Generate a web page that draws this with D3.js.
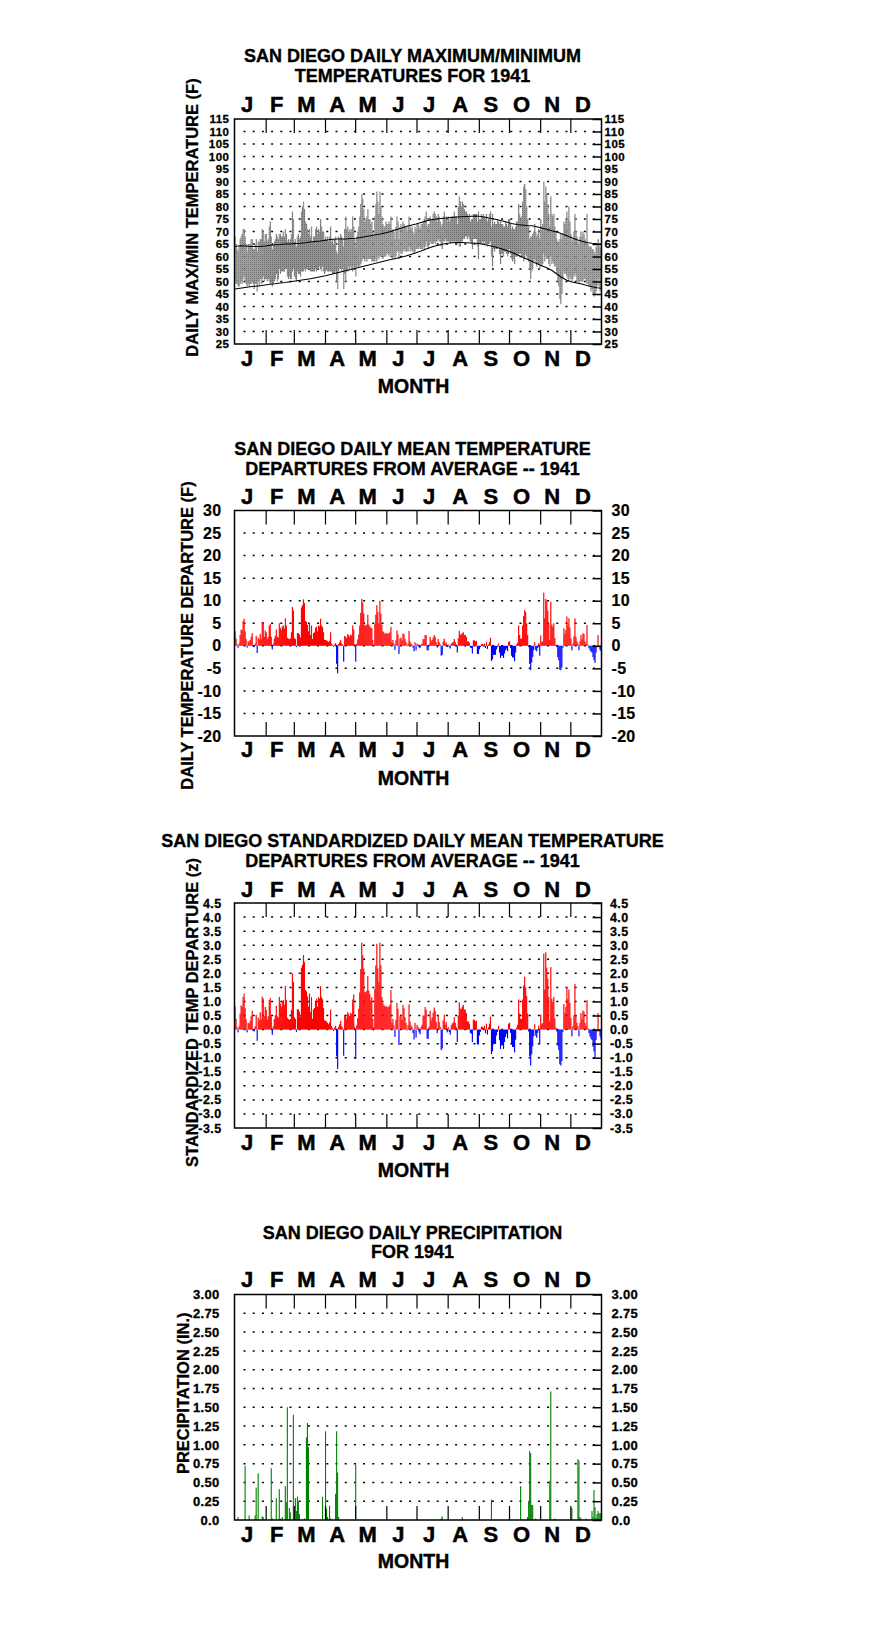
<!DOCTYPE html>
<html><head><meta charset="utf-8">
<script src="https://cdn.jsdelivr.net/npm/d3@7"></script>
<style>
body{margin:0;background:#fff}
svg{display:block}
text{font-family:"Liberation Sans",Arial,sans-serif;font-weight:bold;fill:#000}
</style>
</head><body>
<svg id="chart" width="876" height="1634"></svg>
<script>
// ---------------- DATA ----------------
const monthLetters = ["J","F","M","A","M","J","J","A","S","O","N","D"];
const monthStarts = [0,31,59,90,120,151,181,212,243,273,304,334];
const monthLengths = [31,28,31,30,31,30,31,31,30,31,30,31];

const tempTicks = [25,30,35,40,45,50,55,60,65,70,75,80,85,90,95,100,105,110,115];
const depTicks = [-20,-15,-10,-5,0,5,10,15,20,25,30];
const zTicks = [-3.5,-3.0,-2.5,-2.0,-1.5,-1.0,-0.5,0.0,0.5,1.0,1.5,2.0,2.5,3.0,3.5,4.0,4.5];
const zTickLabels = ["-3.5","-3.0","-2.5","-2.0","-1.5","-1.0","-0.5","0.0","0.5","1.0","1.5","2.0","2.5","3.0","3.5","4.0","4.5"];
const precipTicks = [0,0.25,0.5,0.75,1.0,1.25,1.5,1.75,2.0,2.25,2.5,2.75,3.0];
const precipTickLabels = ["0.0","0.25","0.50","0.75","1.00","1.25","1.50","1.75","2.00","2.25","2.50","2.75","3.00"];

// daily maximum temperature (F), Jan 1 .. Dec 31
const tempMax = [
68,65,63,62,64,67,68,69,71,71,68,65,62,65,65,65,67,67,63,63,65,67,62,66,66,67,67,71,70,66,69,
69,66,67,72,74,68,63,65,66,67,69,68,67,69,69,68,68,70,68,71,69,66,67,66,67,69,78,75,
66,67,64,68,69,67,68,78,80,82,79,74,73,71,69,71,68,72,66,68,68,71,72,69,71,70,75,72,70,70,67,
68,67,68,66,68,72,66,67,65,67,68,62,61,68,67,69,68,67,64,71,76,71,72,70,71,70,71,76,72,67,
64,68,70,72,76,81,85,83,79,74,75,76,79,75,75,73,74,70,68,76,81,86,82,77,86,80,76,73,72,72,74,
73,73,74,73,76,70,71,70,67,72,76,74,67,72,73,71,74,73,72,72,70,72,76,72,71,72,70,69,72,71,
73,73,72,71,73,73,74,75,76,78,72,73,73,76,75,75,77,78,77,76,74,77,76,74,72,73,76,78,75,76,74,
76,74,75,76,76,76,78,76,76,73,80,84,82,80,82,81,79,78,78,77,76,77,74,75,75,77,77,77,77,74,78,
75,75,77,76,77,76,75,77,74,75,77,78,72,77,73,74,73,73,75,74,73,74,73,73,72,72,74,73,72,75,
75,73,71,72,71,71,72,74,74,81,77,75,76,82,88,89,87,80,75,72,67,68,68,69,70,73,70,68,69,71,67,
75,72,73,90,82,88,85,81,77,72,84,77,76,77,72,70,67,66,66,67,69,67,69,74,73,75,78,75,80,74,
69,66,67,70,77,70,68,66,65,68,70,68,70,69,67,66,77,65,64,64,64,63,63,62,61,64,64,67,64,64,63
];
// daily minimum temperature (F)
const tempMin = [
50,49,49,48,48,49,50,49,51,52,50,49,48,49,48,49,49,50,49,47,49,49,46,50,48,51,49,51,52,50,51,
51,50,51,50,49,50,48,49,50,51,53,50,51,55,53,54,54,54,54,55,55,52,51,52,51,51,54,55,
52,51,50,54,53,53,52,54,54,54,55,54,55,55,55,55,54,54,54,54,54,55,54,55,55,56,55,54,56,54,53,
54,55,54,54,54,54,54,53,53,53,54,50,47,54,55,55,54,55,47,53,50,54,54,56,55,56,55,54,56,55,
52,56,56,56,56,57,58,59,59,58,59,58,59,59,59,59,58,58,58,58,59,58,60,59,60,60,60,59,60,60,60,
61,61,60,61,60,60,59,60,59,60,62,62,59,62,61,61,62,63,62,62,62,62,64,62,63,62,62,61,62,63,
63,63,64,63,63,63,64,63,64,66,64,63,65,66,65,65,65,66,65,66,66,67,66,66,64,63,66,66,67,66,66,
66,66,65,66,66,66,66,66,66,65,66,64,64,66,66,67,67,68,68,67,68,67,66,65,63,67,67,67,67,64,59,
65,65,65,66,65,66,65,65,64,65,65,66,60,56,63,62,63,63,63,64,61,57,61,61,60,62,62,61,60,61,
63,61,59,58,59,57,60,60,60,61,61,61,60,60,58,59,61,60,59,58,55,51,54,55,58,59,58,56,57,57,55,
57,56,57,61,58,60,59,59,57,56,60,57,58,57,56,56,53,50,48,43,41,45,51,54,53,53,52,51,50,52,
51,50,51,52,53,52,50,50,49,50,50,50,50,51,51,50,49,49,48,48,46,47,45,44,45,46,48,51,48,46,47
];
// normal max / min curves (read every 5 days)
const normalDays = [0,5,10,15,20,25,30,35,40,45,50,55,60,65,70,75,80,85,90,95,100,105,110,115,120,125,130,135,140,145,150,155,160,165,170,175,180,185,190,195,200,205,210,215,220,225,230,235,240,245,250,255,260,265,270,275,280,285,290,295,300,305,310,315,320,325,330,335,340,345,350,355,360,364];
const normalMax = [64,64.3,64.2,64,64,64,64.2,64.5,64.7,64.8,65,65,65.2,65.3,65.5,65.8,66,66.2,66.5,66.8,67,67,67,67.2,67.3,67.6,68,68.3,68.7,69,69.5,70,70.7,71.3,72,72.5,73,73.6,74.2,74.7,75,75.2,75.4,75.6,75.8,75.9,76,76.1,76.2,76,75.6,75.2,74.8,74.3,73.8,73.2,72.8,72.6,72.4,72.3,71.9,71.4,70.9,70.3,69.8,69.1,68.3,67.5,66.7,66.1,65.6,65.3,65.1,65.0];
const normalMin = [47,47.3,47.6,47.9,48.1,48.3,48.6,48.9,49.1,49.4,49.6,49.9,50.2,50.5,50.8,51.1,51.5,51.9,52.3,52.8,53.3,53.8,54.3,54.8,55.3,55.8,56.3,56.8,57.3,57.8,58.3,58.8,59.2,59.7,60.2,60.8,61.5,62.2,63,63.7,64.3,64.8,65.2,65.5,65.6,65.6,65.5,65.4,65.3,65.0,64.6,64.2,63.7,63.1,62.4,61.7,60.8,59.9,59.0,58.1,57.2,56.3,55.5,54.5,53.0,51.6,50.5,49.8,49.4,49.0,48.4,47.9,47.5,47.3];

// daily mean temperature departure (F)
const departure = [
3.3,1.6,0.3,-0.4,0.5,2.4,3.6,3.4,5.5,6.0,3.2,1.5,-0.4,1.0,0.9,1.3,2.0,2.8,-0.2,-0.3,0.5,2.2,-1.6,1.8,1.4,2.6,1.5,5.2,5.3,2.0,3.4,
3.0,1.5,2.0,4.5,4.8,2.0,-0.8,0.5,1.6,2.2,3.6,2.0,1.8,5.0,4.0,3.5,4.3,4.5,3.8,6.1,4.5,1.8,1.6,1.5,1.6,3.0,8.6,7.8,
1.7,1.5,-0.3,2.8,2.8,2.5,1.8,8.5,9.0,10.3,9.5,5.5,5.3,4.6,3.2,5.0,2.4,4.5,1.5,2.8,3.0,4.0,4.3,3.2,4.5,4.3,6.0,4.5,4.2,3.0,1.3,
1.3,1.2,1.0,0.8,1.1,3.0,0.5,0.2,-0.2,0.3,0.6,-4.0,-6.1,0.4,0.8,1.3,0.5,0.3,-3.5,2.2,2.0,1.7,2.6,2.3,2.0,2.5,2.3,4.5,3.6,0.4,
-3.5,0.5,1.4,2.5,4.5,7.3,10.4,9.6,7.2,4.5,4.5,4.7,6.9,4.7,4.3,4.0,3.9,1.3,0.3,4.8,6.9,9.0,7.5,5.0,10.0,7.1,4.7,3.2,3.0,2.6,2.8,
2.8,2.7,2.8,3.0,4.2,0.8,1.3,0.5,-0.9,1.2,3.4,2.5,-1.8,1.6,1.8,1.2,2.7,2.6,1.5,0.8,-0.1,0.5,3.3,1.0,0.5,0.3,-0.4,-1.2,0.8,-1.0,
0.5,0.3,-0.3,-0.5,0.3,0.5,1.5,1.5,2.4,2.4,-1.0,-1.0,0.3,2.0,1.0,1.3,1.8,2.4,2.0,0.8,-0.4,1.5,0.8,0.3,-2.2,-2.0,1.0,1.6,0.5,0.8,-0.3,
0.3,-0.3,-0.6,0.5,0.7,0.9,1.5,0.8,0.3,-1.5,1.7,3.3,2.5,2.5,2.8,3.0,2.4,2.4,2.0,1.0,1.0,0.7,-0.4,-0.5,-1.7,1.2,1.2,1.0,1.1,-1.8,-1.8,
-0.8,-0.3,0.4,0.4,0.2,0.5,-0.5,0.8,-0.7,0.3,0.8,1.8,-3.4,-3.0,-2.0,-2.0,-2.0,-0.8,-0.3,0.5,-1.5,-2.7,-2.2,-2.2,-2.7,-1.7,-1.0,-0.6,-1.2,0.8,
1.0,-0.5,-2.2,-2.6,-2.6,-3.4,-1.5,0.3,0.7,4.5,2.4,1.6,1.6,4.5,6.6,7.9,7.5,5.0,2.4,-0.3,-4.0,-5.4,-3.7,-2.5,-1.0,0.8,-0.9,-1.2,-0.5,0.6,-2.2,
2.3,0.8,1.0,11.8,6.1,10.4,10.0,7.8,5.0,1.3,9.8,4.7,4.2,5.0,1.7,0.3,-0.3,-2.5,-3.2,-5.3,-5.4,-4.8,-0.4,3.9,2.6,3.5,6.5,4.7,6.1,4.1,
1.7,-1.0,0.5,2.1,6.1,2.0,1.0,0.5,-1.0,1.0,2.4,1.5,2.8,2.6,1.0,0.5,4.6,0.2,-0.5,-1.0,-1.3,-1.5,-2.5,-3.2,-3.8,-1.5,-0.3,2.4,-0.3,-1.0,-1.2
];
// standardized daily mean temperature departure (z)
const zDeparture = [
0.82,0.38,0.07,-0.10,0.12,0.57,0.86,0.81,1.16,1.28,0.76,0.36,-0.10,0.24,0.21,0.31,0.48,0.67,-0.05,-0.07,0.12,0.52,-0.40,0.43,0.33,0.62,0.36,1.17,1.10,0.48,0.81,
0.70,0.35,0.47,1.05,1.12,0.47,-0.19,0.12,0.37,0.51,0.84,0.47,0.42,1.16,0.93,0.81,1.00,1.05,0.88,1.55,1.05,0.42,0.37,0.35,0.37,0.70,2.00,1.70,
0.44,0.38,-0.08,0.72,0.72,0.64,0.46,2.20,2.30,2.65,2.40,1.41,1.36,1.18,0.82,1.28,0.62,1.15,0.38,0.72,0.77,1.03,1.10,0.82,1.15,1.10,1.54,1.15,1.08,0.77,0.33,
0.31,0.29,0.24,0.19,0.26,0.71,0.12,0.05,-0.05,0.07,0.14,-0.95,-1.40,0.10,0.19,0.31,0.12,0.07,-0.93,0.52,0.48,0.40,0.62,0.55,0.48,0.60,0.55,1.07,1.25,0.10,
-1.05,0.15,0.41,0.74,1.32,2.15,3.09,2.64,2.17,1.34,1.32,1.38,1.90,1.38,1.26,1.04,1.15,0.38,0.09,1.45,2.28,3.05,2.17,1.69,3.09,2.28,1.16,0.94,0.88,0.83,0.82,
0.82,0.79,0.82,0.88,1.40,0.24,0.38,0.15,-0.26,0.35,0.95,0.74,-0.55,0.47,0.53,0.35,0.88,0.76,0.44,0.24,-0.03,0.15,0.90,0.29,0.15,0.09,-0.12,-0.35,0.24,-0.29,
0.17,0.10,-0.10,-0.17,0.10,0.17,0.50,0.50,0.80,0.70,-0.33,-0.33,0.10,0.67,0.33,0.43,0.60,0.78,0.67,0.27,-0.13,0.50,0.27,0.10,-0.73,-0.67,0.33,0.53,0.17,0.27,-0.10,
0.09,-0.09,-0.18,0.15,0.21,0.26,0.44,0.24,0.09,-0.44,0.50,0.97,0.74,0.74,0.82,0.88,0.71,0.71,0.59,0.29,0.29,0.21,-0.12,-0.15,-0.45,0.35,0.35,0.29,0.32,-0.53,-0.53,
-0.21,-0.08,0.10,0.10,0.05,0.13,-0.13,0.21,-0.18,0.08,0.21,0.46,-0.87,-0.77,-0.51,-0.51,-0.51,-0.21,-0.08,0.13,-0.38,-0.69,-0.56,-0.56,-0.69,-0.44,-0.26,-0.15,-0.31,0.21,
0.24,-0.12,-0.52,-0.62,-0.62,-0.81,-0.36,0.07,0.17,1.07,0.57,0.38,0.38,1.07,1.57,1.88,1.50,1.19,0.57,-0.07,-0.95,-1.28,-0.88,-0.60,-0.24,0.19,-0.21,-0.29,-0.12,0.14,-0.52,
0.53,0.19,0.23,2.70,1.42,2.75,2.20,1.81,1.16,0.30,2.22,1.09,0.98,1.16,0.40,0.07,-0.07,-0.58,-0.74,-1.23,-1.28,-1.12,-0.09,0.91,0.60,0.81,1.51,1.09,1.42,0.95,
0.41,-0.24,0.12,0.51,1.62,0.49,0.24,0.12,-0.24,0.24,0.59,0.37,0.68,0.63,0.24,0.12,1.05,0.05,-0.12,-0.24,-0.32,-0.37,-0.61,-0.78,-1.00,-0.37,-0.07,0.59,-0.07,-0.24,-0.35
];
// daily precipitation (in.), only days with a bar
const precipDays = [3,10,14,20,21,23,27,28,36,37,41,44,45,47,50,51,52,54,55,58,60,61,62,63,64,69,71,72,73,87,90,91,92,94,95,100,101,102,103,120,205,206,226,255,284,291,292,293,294,295,296,299,313,314,318,335,341,342,343,344,349,355,356,357,358,359,360,361,362,363,364];
const precipAmounts = [0.04,0.72,0.06,0.06,0.43,0.62,0.05,0.04,0.69,0.02,0.29,0.41,0.02,0.04,0.45,0.24,1.50,0.16,0.10,1.40,0.29,0.12,0.31,0.25,0.08,0.02,1.10,1.29,0.97,0.31,1.18,0.15,0.04,0.19,0.02,0.35,1.18,0.63,0.04,0.74,0.02,0.05,0.04,0.27,0.45,0.04,0.25,0.92,0.89,0.20,0.20,0.02,0.52,1.71,0.02,0.16,0.81,0.79,0.04,0.02,0.02,0.12,0.04,0.40,0.17,0.03,0.08,0.12,0.09,0.09,0.09];

// ---------------- DRAWING ----------------
const svg = d3.select("#chart");
svg.append("rect").attr("width",876).attr("height",1634).attr("fill","#fff");

const defs = svg.append("defs");
const pat = defs.append("pattern").attr("id","stip").attr("patternUnits","userSpaceOnUse").attr("width",2).attr("height",2);
pat.append("rect").attr("width",2).attr("height",2).attr("fill","#939393");
pat.append("rect").attr("width",1).attr("height",1).attr("fill","#6a6a6a");

const X0 = 234.5, X1 = 601.5;
const x = d3.scaleLinear().domain([0,365]).range([X0,X1]);
const FONT = '"Liberation Sans", Arial, sans-serif';

function heavy(sel, w){
  return sel.attr("stroke","#000").attr("stroke-width",w).attr("paint-order","stroke");
}

function panel(cfg){
  const g = svg.append("g");
  const y = d3.scaleLinear().domain(cfg.domain).range([cfg.bottom,cfg.top]);

  // titles
  cfg.title.forEach((t,i)=>{
    heavy(g.append("text").attr("x",412.5).attr("y",cfg.titleY[i]).attr("text-anchor","middle")
      .style("font-size","18px").text(t), 0.35);
  });

  // dotted grid rows
  cfg.ticks.forEach(v=>{
    if (v===cfg.domain[0] || v===cfg.domain[1]) return;
    g.append("line").attr("x1",243.5).attr("x2",595).attr("y1",y(v)).attr("y2",y(v))
      .attr("stroke","#000").attr("stroke-width",1.5).attr("stroke-dasharray","2 7.2");
  });

  // data
  cfg.draw(g,y);

  // month ticks top & bottom
  const mt = g.append("g").attr("transform",`translate(0,${cfg.top})`)
    .call(d3.axisTop(x).tickValues(monthStarts.slice(1)).tickSize(-14).tickFormat(""));
  const mb = g.append("g").attr("transform",`translate(0,${cfg.bottom})`)
    .call(d3.axisBottom(x).tickValues(monthStarts.slice(1)).tickSize(-14).tickFormat(""));
  [mt,mb].forEach(a=>{ a.select(".domain").remove(); a.selectAll("line").attr("stroke","#000").attr("stroke-width",1.2); });

  // left labels
  const la = g.append("g").attr("transform",`translate(${X0},0)`)
    .call(d3.axisLeft(y).tickValues(cfg.ticks).tickSize(0).tickPadding(cfg.padL)
      .tickFormat((d,i)=>cfg.labels[i]));
  la.select(".domain").remove();
  heavy(la.selectAll("text").style("font-size",cfg.labelSize).style("font-family",FONT).style("font-weight","bold")
    .style("letter-spacing",cfg.ls).attr("fill","#000"), cfg.lw);

  // right axis: inward ticks + labels
  const ra = g.append("g").attr("transform",`translate(${X1},0)`)
    .call(d3.axisRight(y).tickValues(cfg.ticks).tickSizeInner(-9).tickSizeOuter(0).tickPadding(cfg.padR)
      .tickFormat((d,i)=>cfg.labels[i]));
  ra.select(".domain").remove();
  ra.selectAll("line").attr("stroke","#000").attr("stroke-width",1.5);
  heavy(ra.selectAll("text").attr("x",cfg.padR).style("font-size",cfg.labelSize).style("font-family",FONT)
    .style("font-weight","bold").style("letter-spacing",cfg.ls).attr("fill","#000"), cfg.lw);

  // frame
  g.append("rect").attr("x",X0).attr("y",cfg.top).attr("width",X1-X0).attr("height",cfg.bottom-cfg.top)
    .attr("fill","none").attr("stroke","#000").attr("stroke-width",1.5);

  // month letters
  monthLetters.forEach((m,i)=>{
    const cx = x(monthStarts[i] + monthLengths[i]/2) - 3;
    [cfg.monthTopY, cfg.monthBotY].forEach(yy=>{
      heavy(g.append("text").attr("x",cx).attr("y",yy).attr("text-anchor","middle").style("font-size","22px").text(m), 0.5);
    });
  });
  heavy(g.append("text").attr("x",413.5).attr("y",cfg.monthLabelY).attr("text-anchor","middle")
    .style("font-size","19.5px").text("MONTH"), 0.4);

  // y title
  heavy(g.append("text").attr("transform",`translate(${cfg.yTitle[0]},${cfg.yTitle[1]}) rotate(-90)`)
    .attr("text-anchor","middle").attr("dy","0.36em").style("font-size","16.5px").text(cfg.yTitleText), 0.3);
}

const days = d3.range(365);

// Panel 1: max/min
panel({
  title:["SAN DIEGO DAILY MAXIMUM/MINIMUM","TEMPERATURES FOR 1941"], titleY:[62,82.3],
  domain:[25,115], top:119, bottom:344, ticks:tempTicks, labels:tempTicks.map(String),
  labelSize:"11.5px", ls:"0.5px", lw:0.3, padL:5, padR:3,
  monthTopY:111.7, monthBotY:365.7, monthLabelY:392.7,
  yTitle:[191.7,217.5], yTitleText:"DAILY MAX/MIN TEMPERATURE (F)",
  draw:(g,y)=>{
    g.append("g").selectAll("rect").data(days).join("rect")
      .attr("x",d=>x(d)).attr("width",d=>x(d+1)-x(d)+0.25)
      .attr("y",d=>y(tempMax[d])).attr("height",d=>y(tempMin[d])-y(tempMax[d]))
      .attr("fill","url(#stip)");
    const line = d3.line().x((d,i)=>x(normalDays[i]+0.5)).y(d=>y(d));
    g.append("path").attr("d",line(normalMax)).attr("fill","none").attr("stroke","#000").attr("stroke-width",1.1);
    g.append("path").attr("d",line(normalMin)).attr("fill","none").attr("stroke","#000").attr("stroke-width",1.1);
  }
});

function depBars(arr){
  return (g,y)=>{
    g.append("g").selectAll("rect").data(days).join("rect")
      .attr("x",d=>x(d)).attr("width",d=>x(d+1)-x(d)+0.15)
      .attr("y",d=>y(Math.max(0,arr[d]))).attr("height",d=>Math.abs(y(arr[d])-y(0)))
      .attr("fill",d=>arr[d]>=0?"#ff0000":"#0000ff");
  };
}

// Panel 2: departures
panel({
  title:["SAN DIEGO DAILY MEAN TEMPERATURE","DEPARTURES FROM AVERAGE -- 1941"], titleY:[455,475],
  domain:[-20,30], top:510.5, bottom:736, ticks:depTicks, labels:depTicks.map(String),
  labelSize:"16px", ls:"0.3px", lw:0.2, padL:13, padR:10,
  monthTopY:504, monthBotY:757.3, monthLabelY:785,
  yTitle:[187,635.5], yTitleText:"DAILY TEMPERATURE DEPARTURE (F)",
  draw:depBars(departure)
});

// Panel 3: standardized departures
panel({
  title:["SAN DIEGO STANDARDIZED DAILY MEAN TEMPERATURE","DEPARTURES FROM AVERAGE -- 1941"], titleY:[847,867],
  domain:[-3.5,4.5], top:903, bottom:1128, ticks:zTicks, labels:zTickLabels,
  labelSize:"12.5px", ls:"0.4px", lw:0.3, padL:13, padR:8.5,
  monthTopY:896.7, monthBotY:1150, monthLabelY:1177.3,
  yTitle:[191.7,1012.5], yTitleText:"STANDARDIZED TEMP DEPARTURE (z)",
  draw:depBars(zDeparture)
});

// Panel 4: precipitation
panel({
  title:["SAN DIEGO DAILY PRECIPITATION","FOR 1941"], titleY:[1239,1258.3],
  domain:[0,3], top:1294.5, bottom:1520, ticks:precipTicks, labels:precipTickLabels,
  labelSize:"13px", ls:"0.3px", lw:0.3, padL:15, padR:10,
  monthTopY:1287.3, monthBotY:1541.7, monthLabelY:1568.3,
  yTitle:[183,1393.3], yTitleText:"PRECIPITATION (IN.)",
  draw:(g,y)=>{
    g.append("g").selectAll("rect").data(precipDays).join("rect")
      .attr("x",(d)=>x(d)).attr("width",1.1)
      .attr("y",(d,i)=>y(precipAmounts[i])).attr("height",(d,i)=>y(0)-y(precipAmounts[i]))
      .attr("fill","#008000");
  }
});
</script>
</body></html>
